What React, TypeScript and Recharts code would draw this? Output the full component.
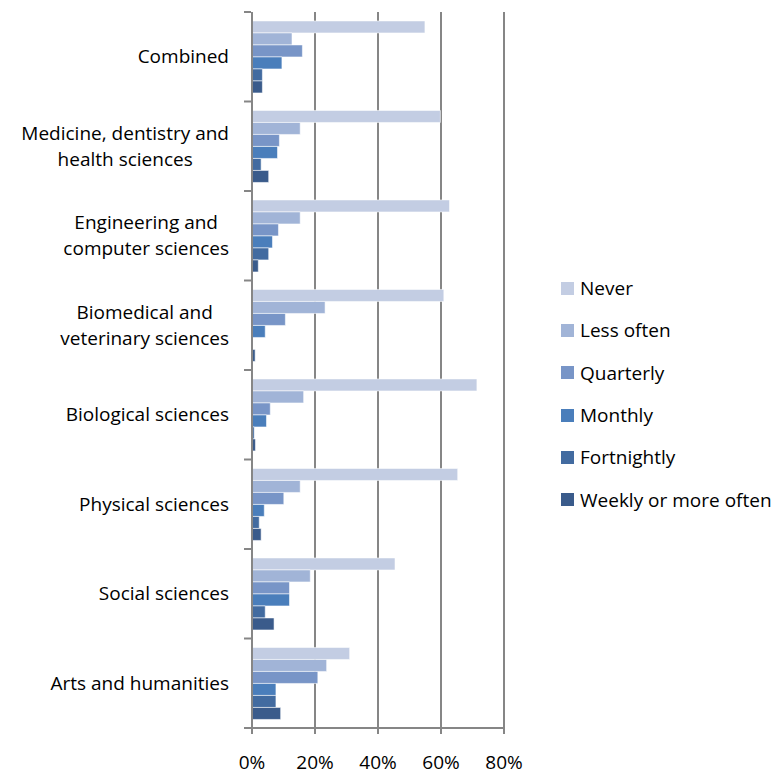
import React from 'react';
import { BarChart, Bar, XAxis, YAxis, CartesianGrid } from 'recharts';

// Categories top to bottom; "\n" marks where the label wraps
const categories = [
  'Combined',
  'Medicine, dentistry and\nhealth sciences',
  'Engineering and\ncomputer sciences',
  'Biomedical and\nveterinary sciences',
  'Biological sciences',
  'Physical sciences',
  'Social sciences',
  'Arts and humanities',
];

const never = [54.9, 59.8, 62.7, 60.9, 71.4, 65.3, 45.4, 31.0];
const lessOften = [12.7, 15.3, 15.3, 23.2, 16.4, 15.3, 18.5, 23.7];
const quarterly = [16.0, 8.7, 8.4, 10.6, 5.8, 10.1, 11.9, 20.9];
const monthly = [9.5, 8.1, 6.5, 4.2, 4.6, 3.9, 11.9, 7.6];
const fortnightly = [3.3, 2.9, 5.3, 0, 0.7, 2.3, 4.2, 7.6];
const weekly = [3.3, 5.3, 2.0, 1.0, 1.1, 2.9, 7.0, 9.1];

const xTicks = [0, 20, 40, 60, 80];

const series = [
  { key: 'never', name: 'Never', values: never, color: '#c3cde3' },
  { key: 'less', name: 'Less often', values: lessOften, color: '#a1b4d7' },
  { key: 'quarterly', name: 'Quarterly', values: quarterly, color: '#7895c7' },
  { key: 'monthly', name: 'Monthly', values: monthly, color: '#4a7ebb' },
  { key: 'fortnightly', name: 'Fortnightly', values: fortnightly, color: '#426ba0' },
  { key: 'weekly', name: 'Weekly or more often', values: weekly, color: '#3a5b8b' },
];

const data = categories.map((category, i) => {
  const row: Record<string, string | number> = { category };
  series.forEach((s) => {
    row[s.key] = s.values[i];
  });
  return row;
});

const FONT = '"Open Sans", Lato, sans-serif';
const FONT_SIZE = 19;
const AXIS_COLOR = '#868686';
const PLOT_TOP = 12;
const PLOT_HEIGHT = 716;
const BAND = PLOT_HEIGHT / categories.length;
const LABEL_RIGHT = 229;

let ctx: CanvasRenderingContext2D | null = null;
const measure = (text: string) => {
  if (!ctx) {
    ctx = document.createElement('canvas').getContext('2d');
    if (ctx) ctx.font = `${FONT_SIZE}px ${FONT}`;
  }
  return ctx ? ctx.measureText(text).width : text.length * 9;
};

const CategoryTick = (props: any) => {
  const { x, y, payload, index } = props;
  const lines = String(payload.value).split('\n');
  const blockW = Math.max(...lines.map(measure));
  const cx = LABEL_RIGHT - blockW / 2;
  const lineH = 26;
  const startY = y - ((lines.length - 1) * lineH) / 2;
  const last = index === categories.length - 1;
  return (
    <g>
      <line x1={x} x2={x + 7} y1={y - BAND / 2} y2={y - BAND / 2} stroke={AXIS_COLOR} strokeWidth={2} />
      {last && (
        <line x1={x} x2={x + 7} y1={y + BAND / 2} y2={y + BAND / 2} stroke={AXIS_COLOR} strokeWidth={2} />
      )}
      {lines.map((line, i) => (
        <text
          key={i}
          x={cx}
          y={startY + i * lineH}
          dy="0.35em"
          textAnchor="middle"
          fontFamily={FONT}
          fontSize={FONT_SIZE}
          fill="#000"
        >
          {line}
        </text>
      ))}
    </g>
  );
};

const LegendBox = () => (
  <div
    style={{
      position: 'absolute',
      left: 561,
      top: 267,
      fontFamily: FONT,
      fontSize: FONT_SIZE,
      color: '#000',
    }}
  >
    {series.map((s) => (
      <div key={s.key} style={{ display: 'flex', alignItems: 'center', height: 42.3 }}>
        <span style={{ display: 'inline-block', width: 13, height: 13, background: s.color, marginRight: 6 }} />
        <span style={{ whiteSpace: 'nowrap' }}>{s.name}</span>
      </div>
    ))}
  </div>
);

export default function App() {
  return (
    <div style={{ position: 'absolute', left: 0, top: 0, width: 784, height: 774, background: '#fff' }}>
      <BarChart
        width={784}
        height={774}
        data={data}
        layout="vertical"
        margin={{ top: PLOT_TOP, right: 280, bottom: 0, left: 0 }}
        barCategoryGap="10%"
        barGap={0}
      >
        <CartesianGrid horizontal={false} stroke={AXIS_COLOR} strokeWidth={2} />
        <XAxis
          type="number"
          domain={[0, 80]}
          ticks={xTicks}
          tickFormatter={(v: number) => `${v}%`}
          stroke={AXIS_COLOR}
          strokeWidth={2}
          tickSize={6}
          tickMargin={22}
          height={46}
          tick={{ fill: '#000', fontFamily: FONT, fontSize: FONT_SIZE }}
          allowDataOverflow
        />
        <YAxis
          type="category"
          dataKey="category"
          width={252}
          stroke={AXIS_COLOR}
          strokeWidth={2}
          tickLine={false}
          interval={0}
          tick={<CategoryTick />}
        />
        {series.map((s) => (
          <Bar
            key={s.key}
            dataKey={s.key}
            name={s.name}
            fill={s.color}
            stroke="rgba(255,255,255,0.55)"
            strokeWidth={1}
            isAnimationActive={false}
          />
        ))}
      </BarChart>
      <LegendBox />
    </div>
  );
}
